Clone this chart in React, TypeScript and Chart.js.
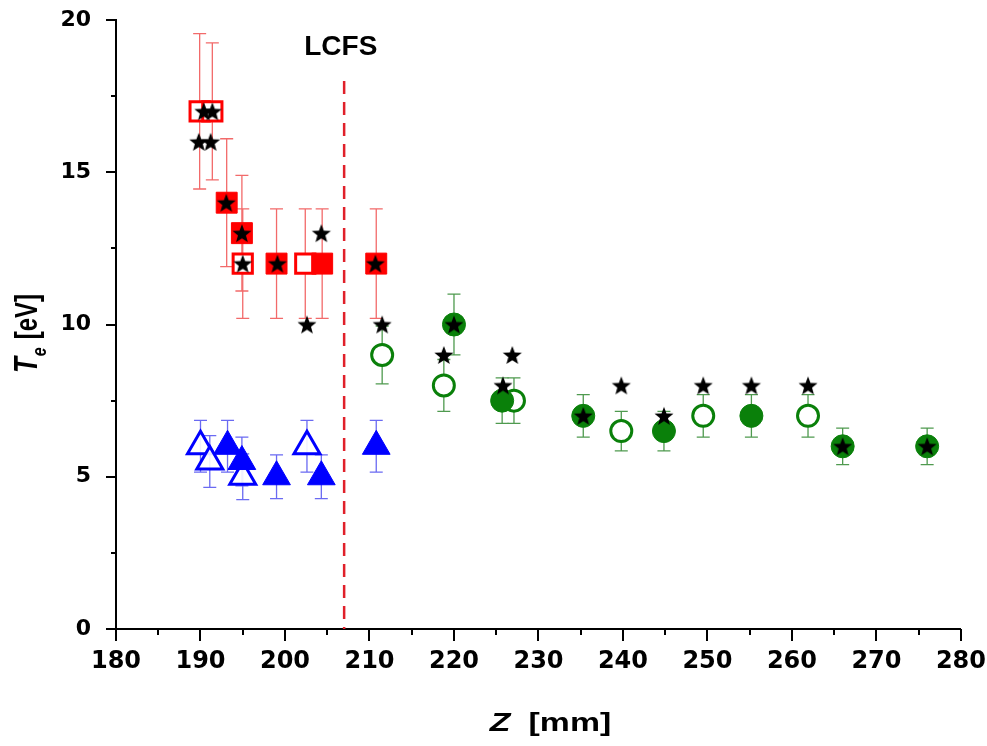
import React, { useEffect, useRef } from 'react';
import { Chart, registerables } from 'chart.js';

Chart.register(...registerables);

// Z positions [mm] and electron temperatures [eV] with their uncertainties
const redOpenZ = [189.9, 191.4, 195.0, 202.4];
const redOpenTe = [17, 17, 12, 12];
const redOpenErr = [2.55, 2.25, 1.8, 1.8];

const redFilledZ = [193.1, 194.9, 199.0, 204.4, 210.8];
const redFilledTe = [14, 13, 12, 12, 12];
const redFilledErr = [2.1, 1.9, 1.8, 1.8, 1.8];

const blueOpenZ = [190.0, 191.1, 195.0, 202.6];
const blueOpenTe = [6, 5.5, 5, 6];
const blueOpenErr = [0.85, 0.85, 0.75, 0.85];

const blueFilledZ = [193.2, 194.9, 199.0, 204.3, 210.8];
const blueFilledTe = [6, 5.5, 5, 5, 6];
const blueFilledErr = [0.85, 0.8, 0.72, 0.72, 0.85];

const greenOpenZ = [211.5, 218.8, 227.1, 239.8, 249.5, 261.9];
const greenOpenTe = [9, 8, 7.5, 6.5, 7, 7];
const greenOpenErr = [0.95, 0.85, 0.75, 0.65, 0.7, 0.7];

const greenFilledZ = [220.0, 225.7, 235.3, 244.85, 255.2, 266.0, 276.0];
const greenFilledTe = [10, 7.5, 7, 6.5, 7, 6, 6];
const greenFilledErr = [1.0, 0.75, 0.7, 0.65, 0.7, 0.6, 0.6];

const starZ = [189.8, 191.2, 190.4, 191.4, 193.05, 194.9, 195.0, 199.1, 204.3, 202.6, 210.7, 211.5,
  220.0, 218.8, 226.9, 225.8, 235.3, 239.8, 244.85, 249.5, 255.2, 261.9, 266.0, 276.0];
const starTe = [16, 16, 17, 17, 14, 13, 12, 12, 13, 10, 12, 10,
  10, 9, 9, 8, 7, 8, 7, 8, 8, 8, 6, 6];

// Last closed flux surface position
const lcfsZ = [207, 207];
const lcfsTe = [18, 0];
const lcfsLabel = 'LCFS';
const lcfsLabelZ = 206.6;
const lcfsLabelTe = 19.1;

const xTicks = { min: 180, max: 280, step: 10 };
const yTicks = { min: 0, max: 20, step: 5 };

const RED = '#ff0000';
const BLUE = '#0000ff';
const GREEN = '#0a800a';

const pts = (xs: number[], ys: number[]) => xs.map((x, i) => ({ x, y: ys[i] }));

function makeStar(): HTMLCanvasElement {
  const c = document.createElement('canvas');
  c.width = 22;
  c.height = 22;
  const g = c.getContext('2d')!;
  const R = 10;
  const r = 4.2;
  const cx = 11;
  const cy = 11 + 0.095 * R;
  g.beginPath();
  for (let k = 0; k < 10; k++) {
    const rad = k % 2 === 0 ? R : r;
    const a = -Math.PI / 2 + (k * Math.PI) / 5;
    const px = cx + rad * Math.cos(a);
    const py = cy + rad * Math.sin(a);
    if (k === 0) g.moveTo(px, py);
    else g.lineTo(px, py);
  }
  g.closePath();
  g.fillStyle = '#000';
  g.fill();
  return c;
}

const errorBarPlugin = {
  id: 'errorBars',
  beforeDatasetsDraw(chart: any) {
    const { ctx } = chart;
    const x = chart.scales.x;
    const y = chart.scales.y;
    chart.data.datasets.forEach((ds: any) => {
      if (!ds.errors) return;
      ctx.save();
      ctx.strokeStyle = ds.errorColor;
      ctx.lineWidth = 1.3;
      ds.data.forEach((p: any, i: number) => {
        const px = x.getPixelForValue(p.x);
        const top = y.getPixelForValue(p.y + ds.errors[i]);
        const bot = y.getPixelForValue(p.y - ds.errors[i]);
        ctx.beginPath();
        ctx.moveTo(px, top);
        ctx.lineTo(px, bot);
        ctx.moveTo(px - 6.5, top);
        ctx.lineTo(px + 6.5, top);
        ctx.moveTo(px - 6.5, bot);
        ctx.lineTo(px + 6.5, bot);
        ctx.stroke();
      });
      ctx.restore();
    });
  },
};

const axisDecorPlugin = {
  id: 'axisDecor',
  afterDraw(chart: any) {
    const { ctx, chartArea } = chart;
    const x = chart.scales.x;
    const y = chart.scales.y;
    ctx.save();
    ctx.strokeStyle = '#000';
    ctx.lineWidth = 2;
    // x ticks: major every 10, minor every 5, pointing outward
    for (let v = xTicks.min; v <= xTicks.max; v += xTicks.step / 2) {
      const px = Math.round(x.getPixelForValue(v));
      const len = (v - xTicks.min) % xTicks.step === 0 ? 12 : 6;
      ctx.beginPath();
      ctx.moveTo(px, chartArea.bottom);
      ctx.lineTo(px, chartArea.bottom + len);
      ctx.stroke();
    }
    // y ticks: major every 5, minor every 2.5
    for (let v = yTicks.min; v <= yTicks.max; v += yTicks.step / 2) {
      const py = Math.round(y.getPixelForValue(v));
      const len = (v - yTicks.min) % yTicks.step === 0 ? 10 : 5;
      ctx.beginPath();
      ctx.moveTo(chartArea.left - len, py);
      ctx.lineTo(chartArea.left, py);
      ctx.stroke();
    }

    // LCFS label
    ctx.fillStyle = '#000';
    ctx.font = 'bold 28px "Liberation Sans", Arial, sans-serif';
    ctx.textAlign = 'center';
    ctx.textBaseline = 'middle';
    ctx.fillText(lcfsLabel, x.getPixelForValue(lcfsLabelZ), y.getPixelForValue(lcfsLabelTe));

    // x-axis title: italic Z followed by the unit
    const stretch = 1.3;
    ctx.textAlign = 'left';
    ctx.textBaseline = 'alphabetic';
    const fZ = 'italic bold 26px "Liberation Sans", Arial, sans-serif';
    const fU = 'bold 26px "Liberation Sans", Arial, sans-serif';
    ctx.font = fZ;
    const wZ = ctx.measureText('Z').width;
    ctx.font = fU;
    const wU = ctx.measureText('[mm]').width;
    const gap = 14;
    const total = (wZ + gap + wU) * stretch;
    const cxX = (chartArea.left + chartArea.right) / 2 + 12;
    ctx.save();
    ctx.translate(cxX - total / 2, 731);
    ctx.scale(stretch, 1);
    ctx.font = fZ;
    ctx.fillText('Z', 0, 0);
    ctx.font = fU;
    ctx.fillText('[mm]', wZ + gap, 0);
    ctx.restore();

    // y-axis title: italic T with subscript e, then the unit
    const fT = 'italic bold 26px "Liberation Sans", Arial, sans-serif';
    const fe = 'italic bold 16px "Liberation Sans", Arial, sans-serif';
    const fY = 'bold 24px "Liberation Sans", Arial, sans-serif';
    ctx.font = fT;
    const wT = ctx.measureText('T').width;
    ctx.font = fe;
    const we = ctx.measureText('e').width;
    ctx.font = fY;
    const wY = ctx.measureText('[eV]').width;
    const gapY = 9;
    const totY = wT + we + gapY + wY;
    const cyY = (chartArea.top + chartArea.bottom) / 2 + 9;
    ctx.save();
    ctx.translate(37, cyY + totY / 2);
    ctx.rotate(-Math.PI / 2);
    ctx.scale(1, 1.3);
    ctx.font = fT;
    ctx.fillText('T', 0, 0);
    ctx.font = fe;
    ctx.fillText('e', wT + 1, 7);
    ctx.font = fY;
    ctx.fillText('[eV]', wT + we + gapY, 0);
    ctx.restore();

    ctx.restore();
  },
};

export default function App() {
  const canvasRef = useRef<HTMLCanvasElement | null>(null);

  useEffect(() => {
    document.body.style.margin = '0';
    const canvas = canvasRef.current;
    if (!canvas) return;
    const star = makeStar();

    const chart = new Chart(canvas, {
      type: 'scatter',
      data: {
        datasets: [
          {
            label: 'model',
            data: pts(starZ, starTe),
            pointStyle: star as any,
            pointRadius: 9,
            backgroundColor: '#000',
            borderColor: '#000',
          },
          {
            label: 'red filled',
            data: pts(redFilledZ, redFilledTe),
            errors: redFilledErr,
            errorColor: '#f26a6a',
            pointStyle: 'rect',
            pointRadius: 14.8,
            borderWidth: 1,
            backgroundColor: RED,
            borderColor: RED,
          } as any,
          {
            label: 'blue filled',
            data: pts(blueFilledZ, blueFilledTe),
            errors: blueFilledErr,
            errorColor: '#6a6af2',
            pointStyle: 'triangle',
            pointRadius: 16,
            borderWidth: 1,
            backgroundColor: BLUE,
            borderColor: BLUE,
          } as any,
          {
            label: 'green filled',
            data: pts(greenFilledZ, greenFilledTe),
            errors: greenFilledErr,
            errorColor: '#4f9a4f',
            pointStyle: 'circle',
            pointRadius: 11.5,
            borderWidth: 1,
            backgroundColor: GREEN,
            borderColor: GREEN,
          } as any,
          {
            label: 'red open',
            data: pts(redOpenZ, redOpenTe),
            errors: redOpenErr,
            errorColor: '#f26a6a',
            pointStyle: 'rect',
            pointRadius: 13.6,
            borderWidth: 3,
            backgroundColor: '#fff',
            borderColor: RED,
          } as any,
          {
            label: 'blue open',
            data: pts(blueOpenZ, blueOpenTe),
            errors: blueOpenErr,
            errorColor: '#6a6af2',
            pointStyle: 'triangle',
            pointRadius: 15,
            borderWidth: 3,
            backgroundColor: 'rgba(255,255,255,0.9)',
            borderColor: BLUE,
          } as any,
          {
            label: 'green open',
            data: pts(greenOpenZ, greenOpenTe),
            errors: greenOpenErr,
            errorColor: '#4f9a4f',
            pointStyle: 'circle',
            pointRadius: 10.5,
            borderWidth: 3,
            backgroundColor: '#fff',
            borderColor: GREEN,
          } as any,
          {
            label: 'LCFS',
            data: pts(lcfsZ, lcfsTe),
            showLine: true,
            pointRadius: 0,
            borderColor: '#e0202a',
            borderWidth: 2.5,
            borderDash: [13, 8],
          },
        ],
      },
      options: {
        animation: false,
        responsive: false,
        events: [],
        layout: { padding: { top: 20, right: 25, left: 0, bottom: 0 } },
        plugins: { legend: { display: false }, tooltip: { enabled: false } },
        scales: {
          x: {
            type: 'linear',
            min: xTicks.min,
            max: xTicks.max,
            grid: {
              display: true,
              drawOnChartArea: false,
              drawTicks: true,
              tickLength: 17,
              tickColor: 'rgba(0,0,0,0)',
            },
            border: { display: true, color: '#000', width: 2 },
            ticks: {
              stepSize: xTicks.step,
              color: '#000',
              padding: 1,
              font: { family: '"DejaVu Sans", sans-serif', weight: 'bold', size: 24 },
            },
            afterFit: (s: any) => { s.height = 117; },
          },
          y: {
            type: 'linear',
            min: yTicks.min,
            max: yTicks.max,
            grid: {
              display: true,
              drawOnChartArea: false,
              drawTicks: true,
              tickLength: 24,
              tickColor: 'rgba(0,0,0,0)',
            },
            border: { display: true, color: '#000', width: 2 },
            ticks: {
              stepSize: yTicks.step,
              color: '#000',
              padding: 1,
              font: { family: '"DejaVu Sans", sans-serif', weight: 'bold', size: 22 },
            },
            afterFit: (s: any) => { s.width = 116; },
          },
        },
      } as any,
      plugins: [errorBarPlugin, axisDecorPlugin],
    });

    return () => chart.destroy();
  }, []);

  return (
    <div style={{ width: 987, height: 746, background: '#fff' }}>
      <canvas ref={canvasRef} width={987} height={746} />
    </div>
  );
}
